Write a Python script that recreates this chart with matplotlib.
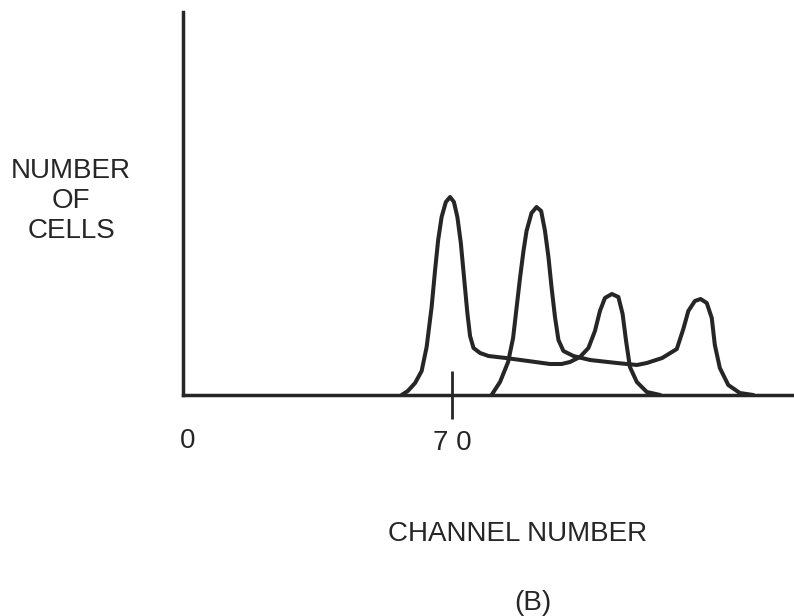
import matplotlib
matplotlib.use("Agg")
from matplotlib import pyplot as plt
from matplotlib.transforms import ScaledTranslation

# curve A: first peak at channel ~70, second peak ~112
chan_a = [56.9, 58.5, 60.4, 62.1, 63.4, 64.7, 65.6, 66.4, 67.3, 68.4, 69.5, 70.5, 71.4,
          72.3, 73.1, 74.0, 74.7, 75.6, 77.3, 79.5, 84.0, 89.8, 95.5, 98.5, 100.7, 103.3,
          105.5, 107.2, 108.5, 109.8, 111.6, 113.3, 114.4, 115.3, 116.3, 118.1, 120.7, 124.2]
cells_a = [0, 4, 12, 24, 48, 88, 125, 155, 178, 193, 198, 193, 178,
           152, 119, 82, 59, 47, 42, 39, 37, 34, 31, 31, 33, 38,
           47, 64, 84, 97, 101, 98, 81, 54, 28, 13, 3, 0]

# curve B: first peak ~92, second peak ~135
chan_b = [80.3, 82.5, 84.6, 85.9, 86.8, 87.7, 88.6, 89.4, 90.7, 92.0, 93.2, 94.2, 95.1,
          95.9, 96.8, 97.7, 99.0, 101.6, 105.9, 112.9, 118.1, 120.7, 124.7, 128.5, 130.2,
          131.5, 133.2, 134.7, 136.3, 137.6, 138.4, 139.7, 141.9, 144.9, 148.4]
cells_b = [0, 13, 33, 57, 87, 117, 144, 164, 182, 188, 184, 164, 138,
           108, 78, 55, 44, 39, 35, 32, 30, 32, 37, 46, 66,
           84, 94, 96, 92, 77, 50, 27, 10, 2, 0]

xtick_major = [70]
xtick_zero = [0]

ink = '#262626'
plt.rcParams['font.family'] = ['Liberation Sans', 'DejaVu Sans']

fig = plt.figure(figsize=(7.94, 6.16), dpi=100)
ax = fig.add_axes([183 / 794, 221 / 616, 611 / 794, 383 / 616])

ax.plot(chan_a, cells_a, color=ink, lw=2.9, solid_joinstyle='round', solid_capstyle='round')
ax.plot(chan_b, cells_b, color=ink, lw=2.9, solid_joinstyle='round', solid_capstyle='round')

ax.set_xlim(0, 159)
ax.set_ylim(0, 383)

for s in ['top', 'right']:
    ax.spines[s].set_visible(False)
for s in ['left', 'bottom']:
    ax.spines[s].set_color(ink)
    ax.spines[s].set_linewidth(2.5)

ax.set_yticks([])
ax.set_xticks(xtick_major)
ax.set_xticklabels(['7 0'])
ax.set_xticks(xtick_zero, minor=True)
ax.set_xticklabels(['0'], minor=True)
ax.tick_params(axis='x', which='major', direction='inout', length=34, width=2.0,
               color=ink, pad=8, labelsize=20, labelcolor=ink)
ax.tick_params(axis='x', which='minor', length=0, pad=24, labelsize=20, labelcolor=ink)
for lbl in ax.get_xticklabels(minor=True):
    lbl.set_transform(lbl.get_transform() + ScaledTranslation(0.05, 0, fig.dpi_scale_trans))

ax.set_ylabel('NUMBER\nOF\nCELLS', rotation=0, fontsize=20, color=ink,
              ha='center', va='center', linespacing=1.2)
ax.yaxis.set_label_coords(-0.183, 0.507)

ax.set_xlabel('CHANNEL NUMBER', fontsize=20, color=ink, va='center')
ax.xaxis.set_label_coords(0.547, -0.362)

fig.text(533 / 794, 1 - 603 / 616, '(B)', fontsize=20, color=ink, ha='center', va='center')

fig.savefig('out.png', dpi=100)
